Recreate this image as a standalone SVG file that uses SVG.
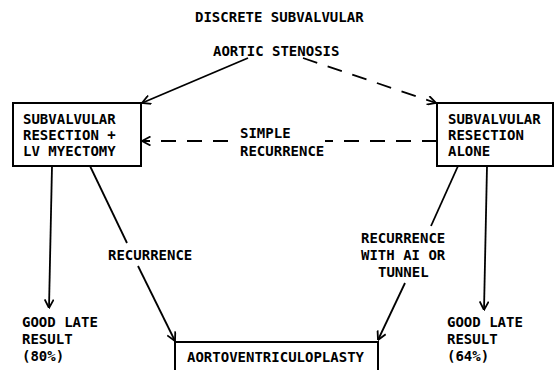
<svg xmlns="http://www.w3.org/2000/svg" width="555" height="370" viewBox="0 0 555 370">
<style>
  text { font-family: "DejaVu Sans Mono", "Liberation Mono", monospace; font-size: 14px; font-weight: bold; fill: #000; }
  .box { fill: #fff; stroke: #000; stroke-width: 2; }
  .line { fill: none; stroke: #000; stroke-width: 1.8; }
  .dash { stroke-dasharray: 15 11; }
</style>
<defs>
  <marker id="arr" viewBox="0 0 10 10" refX="9.5" refY="5" markerWidth="10" markerHeight="10" markerUnits="userSpaceOnUse" orient="auto">
    <path d="M1,0.5 L9.5,5 L1,9.5" fill="none" stroke="#000" stroke-width="1.8"/>
  </marker>
</defs>
<rect width="555" height="370" fill="#fff"/>

<g id="title"><text x="195" y="22">DISCRETE SUBVALVULAR</text></g>
<g id="aortic-stenosis"><text x="213" y="56">AORTIC STENOSIS</text></g>

<g id="resection-myectomy">
  <rect class="box" x="13" y="103" width="128" height="63"/>
  <text x="23" y="124">SUBVALVULAR</text>
  <text x="23" y="140">RESECTION +</text>
  <text x="23" y="156">LV MYECTOMY</text>
</g>

<g id="resection-alone">
  <rect class="box" x="437" y="103" width="116" height="63"/>
  <text x="448" y="124">SUBVALVULAR</text>
  <text x="448" y="140">RESECTION</text>
  <text x="448" y="156">ALONE</text>
</g>

<g id="aortoventriculoplasty">
  <rect class="box" x="175" y="342" width="203" height="40"/>
  <text x="187" y="362">AORTOVENTRICULOPLASTY</text>
</g>

<g id="good-late-left">
  <text x="22" y="327">GOOD LATE</text>
  <text x="22" y="344">RESULT</text>
  <text x="22" y="361">(80%)</text>
</g>

<g id="good-late-right">
  <text x="447" y="327">GOOD LATE</text>
  <text x="447" y="344">RESULT</text>
  <text x="447" y="361">(64%)</text>
</g>

<g id="connectors">
  <path class="line" d="M248,58 L142,103" marker-end="url(#arr)"/>
  <path class="line dash" d="M303,58 L436,103" marker-end="url(#arr)"/>
  <path class="line dash" d="M437,141 L325,141"/>
  <path class="line dash" d="M228,141 L142,141" marker-end="url(#arr)"/>
  <text x="240" y="138">SIMPLE</text>
  <text x="240" y="156">RECURRENCE</text>
  <path class="line" d="M52,166 L49,308" marker-end="url(#arr)"/>
  <path class="line" d="M90,166 L127,243"/>
  <path class="line" d="M138,266 L175,341" marker-end="url(#arr)"/>
  <text x="108" y="260">RECURRENCE</text>
  <path class="line" d="M487,166 L484,310" marker-end="url(#arr)"/>
  <path class="line" d="M458,166 L431,226"/>
  <path class="line" d="M405,283 L378,340" marker-end="url(#arr)"/>
  <text x="361" y="243">RECURRENCE</text>
  <text x="361" y="260">WITH AI OR</text>
  <text x="378" y="277">TUNNEL</text>
</g>
</svg>
